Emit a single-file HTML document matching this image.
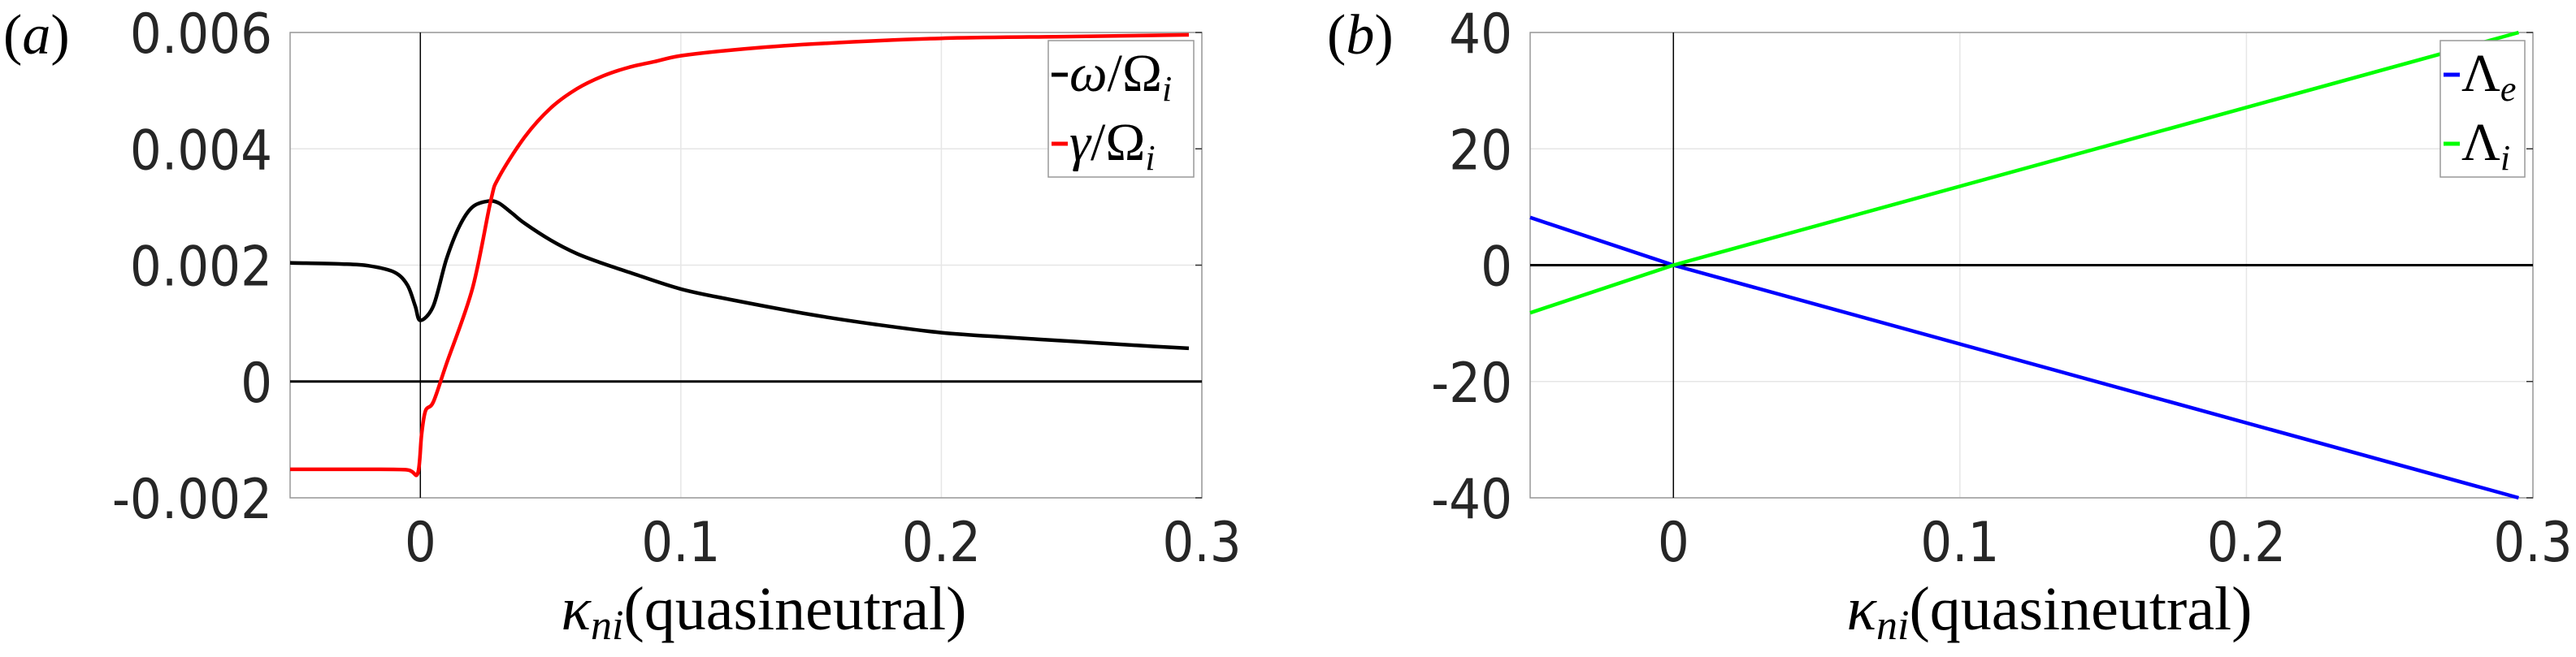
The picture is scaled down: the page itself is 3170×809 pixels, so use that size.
<!DOCTYPE html>
<html><head><meta charset="utf-8"><style>
html,body{margin:0;padding:0;background:#fff;}
svg{display:block;}
.tk{font-family:"DejaVu Sans Condensed","Liberation Sans",sans-serif;font-size:68px;fill:#262626;}
.sr{font-family:"Liberation Serif",serif;}
</style></head><body>
<svg id="fig" width="3170" height="809" viewBox="0 0 3170 809" xmlns="http://www.w3.org/2000/svg"></svg>
<script>
// Panel (a) data
const kA = [-0.05,-0.03,-0.02,-0.01,-0.005,-0.002,0,0.005,0.01,0.015,0.02,0.026,0.03,0.035,0.04,0.05,0.06,0.07,0.08,0.1,0.12,0.15,0.175,0.2,0.225,0.25,0.275,0.295];
const omega = [0.00204,0.00202,0.00199,0.00188,0.00166,0.0013,0.00105,0.0013,0.0021,0.00267,0.003,0.0031,0.00307,0.0029,0.00272,0.00243,0.0022,0.00203,0.00188,0.00159,0.0014,0.00115,0.00098,0.00084,0.00076,0.00069,0.00062,0.00057];
const kG = [-0.05,-0.02,-0.005,-0.001,0.0005,0.002,0.005,0.01,0.02,0.027,0.03,0.04,0.05,0.06,0.07,0.08,0.09,0.1,0.12,0.15,0.2,0.25,0.295];
const gamma = [-0.00151,-0.00151,-0.00152,-0.00158,-0.0009,-0.0005,-0.00035,0.0003,0.0016,0.0031,0.0035,0.0042,0.0047,0.00503,0.00525,0.0054,0.0055,0.0056,0.0057,0.0058,0.0059,0.00593,0.00596];
const yTicksA = [-0.002,0,0.002,0.004,0.006];
const yTickLabelsA = ["-0.002","0","0.002","0.004","0.006"];
// Panel (b) data
const kB = [-0.05,0,0.295];
const lambdaE = [8.2,0,-40];
const lambdaI = [-8.2,0,40];
const yTicksB = [-40,-20,0,20,40];
const yTickLabelsB = ["-40","-20","0","20","40"];
const xTicks = [0,0.1,0.2,0.3];
const xTickLabels = ["0","0.1","0.2","0.3"];

const NS="http://www.w3.org/2000/svg";
const svg=document.getElementById('fig');
function mk(tag,attrs,parent){const e=document.createElementNS(NS,tag);for(const k in attrs)e.setAttribute(k,attrs[k]);(parent||svg).appendChild(e);return e;}
function smoothPath(P){
  let d='M'+P[0][0].toFixed(1)+','+P[0][1].toFixed(1);
  for(let i=0;i<P.length-1;i++){
    const p0=P[Math.max(0,i-1)],p1=P[i],p2=P[i+1],p3=P[Math.min(P.length-1,i+2)];
    const t=0.16;
    const c1=[p1[0]+(p2[0]-p0[0])*t,p1[1]+(p2[1]-p0[1])*t];
    const c2=[p2[0]-(p3[0]-p1[0])*t,p2[1]-(p3[1]-p1[1])*t];
    d+=' C'+c1[0].toFixed(1)+','+c1[1].toFixed(1)+' '+c2[0].toFixed(1)+','+c2[1].toFixed(1)+' '+p2[0].toFixed(1)+','+p2[1].toFixed(1);
  }
  return d;
}
function straightPath(P){return 'M'+P.map(q=>q[0].toFixed(1)+','+q[1].toFixed(1)).join(' L');}

function panel(p){
  const g=mk('g',{});
  
  
  const X=v=>p.x0+(v-(-0.05))/(0.35)*(p.x1-p.x0);
  const Y=v=>p.y1-(v-p.ymin)/(p.ymax-p.ymin)*(p.y1-p.y0);
  xTicks.forEach(t=>{const l=mk('line',{x1:X(t),x2:X(t),y1:p.y0,y2:p.y1,stroke:'#e6e6e6','stroke-width':1.5},g);
    });
  p.yt.forEach(t=>{const l=mk('line',{x1:p.x0,x2:p.x1,y1:Y(t),y2:Y(t),stroke:'#e6e6e6','stroke-width':1.5},g);
    });
  const fr=mk('rect',{x:p.x0,y:p.y0,width:p.x1-p.x0,height:p.y1-p.y0,fill:'none',stroke:'#999','stroke-width':1.5},g);
  
  p.yt.forEach(t=>{mk('line',{x1:p.x1-8,x2:p.x1,y1:Y(t),y2:Y(t),stroke:'#333','stroke-width':1.5},g);});
  const zh=mk('line',{x1:p.x0,x2:p.x1,y1:Y(0),y2:Y(0),stroke:'#000','stroke-width':3},g);
  
  const zv=mk('line',{x1:X(0),x2:X(0),y1:p.y0,y2:p.y1,stroke:'#000','stroke-width':1.5},g);
  
  p.series.forEach(s=>{
    const P=s.x.map((v,i)=>[X(v),Y(s.y[i])]);
    const pl=mk('path',{d:p.smooth?smoothPath(P):straightPath(P),fill:'none',stroke:s.color,'stroke-width':4.5,'stroke-linejoin':'round'},g);
    
  });
  p.yt.forEach((t,i)=>{const tx=mk('text',{x:p.x0-22,y:Y(t)+25,'text-anchor':'end',class:'tk'},g);tx.textContent=p.ytl[i];
    });
  xTicks.forEach((t,i)=>{const tx=mk('text',{x:X(t),y:691,'text-anchor':'middle',class:'tk'},g);tx.textContent=xTickLabels[i];
    });
  const xt=mk('text',{x:(p.x0+p.x1)/2+22,y:775,'text-anchor':'middle',class:'sr','font-size':76},g);
  xt.innerHTML='<tspan font-style="italic">κ</tspan><tspan font-style="italic" font-size="52" dy="12">ni</tspan><tspan dy="-12">(quasineutral)</tspan>';
  
  const pl=mk('text',{x:p.lx,y:66,class:'sr','font-size':70},g);
  pl.innerHTML='(<tspan font-style="italic">'+p.letter+'</tspan>)';
  
  const lg=mk('g',{},g);
  
  mk('rect',{x:p.leg.x,y:50,width:p.leg.w,height:168,fill:'#fff',stroke:'#999','stroke-width':1.5},lg);
  p.series.forEach((s,i)=>{
    const yy=[92,177][i];
    const ln=mk('line',{x1:p.leg.x+4,x2:p.leg.x+24,y1:yy,y2:yy,stroke:s.color,'stroke-width':5},lg);
    
    const tx=mk('text',{x:p.leg.x+26,y:yy+20,class:'sr','font-size':66},lg);
    tx.innerHTML=s.label;
    
  });
}

panel({name:'panel-a',letter:'a',lx:4,smooth:true,x0:357,x1:1479,y0:40,y1:613,ymin:-0.002,ymax:0.006,yt:yTicksA,ytl:yTickLabelsA,
  leg:{x:1290,w:179},
  series:[{name:'omega-line',color:'#000',x:kA,y:omega,label:'<tspan font-style="italic">ω</tspan>/Ω<tspan font-style="italic" font-size="44" dy="12">i</tspan>'},
          {name:'gamma-line',color:'#f00',x:kG,y:gamma,label:'<tspan font-style="italic">γ</tspan>/Ω<tspan font-style="italic" font-size="44" dy="12">i</tspan>'}]});
panel({name:'panel-b',letter:'b',lx:1633,smooth:false,x0:1883,x1:3117,y0:40,y1:613,ymin:-40,ymax:40,yt:yTicksB,ytl:yTickLabelsB,
  leg:{x:3003,w:104},
  series:[{name:'lambda-e-line',color:'#0000ff',x:kB,y:lambdaE,label:'Λ<tspan font-style="italic" font-size="44" dy="12">e</tspan>'},
          {name:'lambda-i-line',color:'#00ff00',x:kB,y:lambdaI,label:'Λ<tspan font-style="italic" font-size="44" dy="12">i</tspan>'}]});
</script>
</body></html>
